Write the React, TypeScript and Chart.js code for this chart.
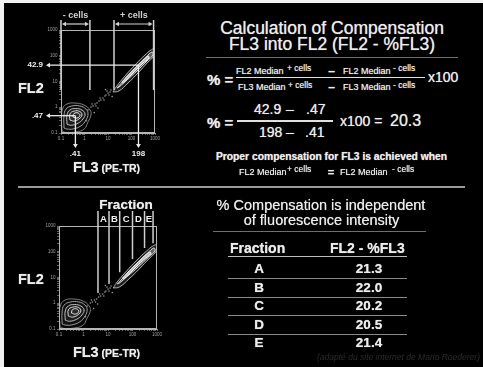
import React, { useEffect, useRef } from "react";
import { Chart, registerables } from "chart.js";

Chart.register(...registerables);

const FONT = '"Liberation Sans", Arial, Helvetica, sans-serif';

// ---------------- Data ----------------
const axisRange = [0.1, 1000];
const majorTicks = [0.1, 1, 10, 100, 1000];
const majorTickLabels = ["0.1", "1", "10", "100", "1000"];

// contour rings, points are [FL3, FL2]
const negRing1 = [[0.11, 0.12], [0.105, 0.38], [0.12, 0.93], [0.18, 1.34], [0.39, 1.46], [0.95, 1.22], [1.71, 0.78], [1.89, 0.5], [1.41, 0.27], [0.95, 0.14], [0.43, 0.11], [0.16, 0.105]];
const negRing2 = [[0.134, 0.156], [0.134, 0.46], [0.163, 0.85], [0.29, 1.12], [0.64, 1.12], [1.16, 0.85], [1.41, 0.55], [1.16, 0.32], [0.71, 0.19], [0.32, 0.143], [0.18, 0.143]];
const negRing3 = [[0.18, 0.22], [0.18, 0.5], [0.24, 0.78], [0.43, 0.89], [0.78, 0.78], [1.05, 0.55], [0.86, 0.35], [0.53, 0.24], [0.27, 0.2]];
const negRing4 = [[0.24, 0.32], [0.24, 0.55], [0.36, 0.71], [0.64, 0.68], [0.78, 0.5], [0.58, 0.35], [0.36, 0.29]];
const negRing5 = [[0.32, 0.42], [0.36, 0.57], [0.53, 0.6], [0.64, 0.48], [0.48, 0.38]];

const posRing1 = [[16.3, 3.9], [22, 6.1], [53, 16.4], [155, 48], [375, 107], [676, 167], [906, 183], [980, 140], [822, 89], [504, 57], [189, 21.4], [71, 8.7], [29.4, 4.3]];
const posRing2 = [[24.2, 5.6], [58, 13.7], [171, 40], [414, 89], [745, 140], [822, 107], [457, 62.5], [171, 25.6], [64, 11.4], [29.4, 6.1]];
const posRing3 = [[39.4, 9.6], [95, 23.4], [254, 57], [504, 98], [556, 82], [280, 48], [105, 19.6], [43.5, 8.7]];

const bridgeEvents = [[1.41, 0.78], [1.89, 1.02], [2.3, 1.12], [2.8, 1.34], [3.4, 1.46], [4.14, 1.75], [5.0, 1.91], [6.1, 2.29], [7.45, 2.73], [8.2, 2.99], [10, 3.57], [12.2, 3.91], [13.4, 4.68], [2.09, 1.34], [3.08, 1.12], [4.57, 2.29], [6.76, 1.91], [9.06, 4.28], [3.75, 0.935], [11, 2.99], [1.2, 0.3], [2.6, 0.62], [15, 2.6], [7.8, 4.9]];

const gateNames = ["- cells", "+ cells"];
const gateNegFL3 = [0.1, 1.7];
const gatePosFL3 = [18, 870];
const gateFloorFL2 = 4.7;

const medianFL3Pos = 198;
const medianFL2Pos = 42.9;
const medianFL3Neg = 0.41;
const medianFL2Neg = 0.47;
const compensationResult = 20.3;

const fractionNames = ["A", "B", "C", "D", "E"];
const fractionEdgesFL3 = [3.9, 11, 30, 100, 310, 690];
const fractionEdgeFloorFL2 = [2.5, 5.6, 16, 52, 140, 215];
const fractionCompensation = [21.3, 22.0, 20.2, 20.5, 21.4];

const footnote = "(adapté du site internet de Mario Roederer)";

// ---------------- helpers ----------------
const Y_AXIS_W = 14;
const X_AXIS_H = 10;

const fmtVal = (v: number) => (v < 1 ? String(v).replace(/^0/, "") : String(v));

function tickLabel(v: number) {
  const i = majorTicks.findIndex((m) => Math.abs(Math.log10(m) - Math.log10(v)) < 1e-6);
  return i >= 0 ? majorTickLabels[i] : "";
}

function seg(ctx: CanvasRenderingContext2D, x0: number, y0: number, x1: number, y1: number) {
  ctx.beginPath();
  ctx.moveTo(x0, y0);
  ctx.lineTo(x1, y1);
  ctx.stroke();
}

function head(ctx: CanvasRenderingContext2D, x: number, y: number, dir: string, len = 4, hw = 2.4) {
  ctx.beginPath();
  ctx.moveTo(x, y);
  if (dir === "left") { ctx.lineTo(x + len, y - hw); ctx.lineTo(x + len, y + hw); }
  if (dir === "right") { ctx.lineTo(x - len, y - hw); ctx.lineTo(x - len, y + hw); }
  if (dir === "down") { ctx.lineTo(x - hw, y - len); ctx.lineTo(x + hw, y - len); }
  ctx.closePath();
  ctx.fill();
}

function ringDataset(ring: number[][], stroke: string, fill: string, w = 1) {
  const pts = ring.map(([x, y]) => ({ x, y }));
  pts.push({ ...pts[0] });
  return {
    type: "line",
    data: pts,
    borderColor: stroke,
    borderWidth: w,
    backgroundColor: fill,
    fill: "shape",
    tension: 0.45,
    pointRadius: 0,
  };
}

function buildDatasets() {
  return [
    ringDataset(negRing1, "#7c7c7c", "rgba(255,255,255,0.03)"),
    ringDataset(negRing2, "#9a9a9a", "rgba(255,255,255,0.04)"),
    ringDataset(negRing3, "#bdbdbd", "rgba(255,255,255,0.05)"),
    ringDataset(negRing4, "#d6d6d6", "rgba(255,255,255,0.06)"),
    ringDataset(negRing5, "#e6e6e6", "rgba(0,0,0,0.85)"),
    ringDataset(posRing1, "#b0b0b0", "rgba(255,255,255,0.12)"),
    ringDataset(posRing2, "#dcdcdc", "rgba(255,255,255,0.30)"),
    ringDataset(posRing3, "#ffffff", "rgba(255,255,255,0.6)"),
    {
      type: "scatter",
      data: bridgeEvents.map(([x, y]) => ({ x, y })),
      pointRadius: 0.8,
      pointBackgroundColor: "#9a9a9a",
      pointBorderWidth: 0,
      showLine: false,
    },
  ];
}

const topDecor = {
  id: "topDecor",
  afterDatasetsDraw(chart: any) {
    const { ctx, chartArea: a } = chart;
    const x = chart.scales.x;
    const y = chart.scales.y;
    ctx.save();
    ctx.strokeStyle = "#b5b5b5";
    ctx.lineWidth = 1;
    ctx.strokeRect(a.left + 0.5, a.top + 0.5, a.right - a.left - 1, a.bottom - a.top - 1);

    [gateNegFL3, gatePosFL3].forEach((g, gi) => {
      const x0 = x.getPixelForValue(g[0]);
      const x1 = x.getPixelForValue(g[1]);
      const yb = y.getPixelForValue(gateFloorFL2);
      ctx.strokeStyle = "#d2d2d2";
      ctx.fillStyle = "#d2d2d2";
      ctx.lineWidth = 1.5;
      seg(ctx, x0, a.top - 10, x0, yb);
      seg(ctx, x1, a.top - 10, x1, yb);
      const by = a.top - 6;
      ctx.lineWidth = 1.2;
      seg(ctx, x0 + 3, by, x1 - 3, by);
      head(ctx, x0 + 1, by, "left", 4, 2.2);
      head(ctx, x1 - 1, by, "right", 4, 2.2);
      ctx.font = `bold 9px ${FONT}`;
      ctx.textAlign = "center";
      ctx.textBaseline = "middle";
      ctx.fillText(gateNames[gi], (x0 + x1) / 2, a.top - 14);
    });

    const medians = [[medianFL3Pos, medianFL2Pos], [medianFL3Neg, medianFL2Neg]];
    medians.forEach(([fx, fy]) => {
      const px = x.getPixelForValue(fx);
      const py = y.getPixelForValue(fy);
      ctx.strokeStyle = "#ececec";
      ctx.fillStyle = "#ececec";
      ctx.lineWidth = 1.3;
      seg(ctx, a.left - 12, py, px, py);
      seg(ctx, px, py, px, a.bottom + 12);
      head(ctx, a.left - 15, py, "left");
      head(ctx, px, a.bottom + 15, "down");
      ctx.font = `bold 8px ${FONT}`;
      ctx.textBaseline = "middle";
      ctx.textAlign = "right";
      ctx.fillText(fmtVal(fy), a.left - 18, py);
      ctx.textAlign = "center";
      ctx.fillText(fmtVal(fx), px, a.bottom + 21);
    });
    ctx.restore();
  },
};

const bottomDecor = {
  id: "bottomDecor",
  afterDatasetsDraw(chart: any) {
    const { ctx, chartArea: a } = chart;
    const x = chart.scales.x;
    const y = chart.scales.y;
    ctx.save();
    ctx.strokeStyle = "#b5b5b5";
    ctx.lineWidth = 1;
    ctx.strokeRect(a.left + 0.5, a.top + 0.5, a.right - a.left - 1, a.bottom - a.top - 1);
    ctx.strokeStyle = "#cfcfcf";
    ctx.lineWidth = 1.5;
    fractionEdgesFL3.forEach((fx, i) => {
      const px = x.getPixelForValue(fx);
      seg(ctx, px, a.top - 15, px, y.getPixelForValue(fractionEdgeFloorFL2[i]));
    });
    ctx.fillStyle = "#f0f0f0";
    ctx.font = `bold 9.5px ${FONT}`;
    ctx.textAlign = "center";
    ctx.textBaseline = "middle";
    fractionNames.forEach((n, i) => {
      const mid = (x.getPixelForValue(fractionEdgesFL3[i]) + x.getPixelForValue(fractionEdgesFL3[i + 1])) / 2;
      ctx.fillText(n, mid, a.top - 7);
    });
    ctx.restore();
  },
};

type Area = { left: number; right: number; top: number; bottom: number };

function FlowPlot({ top, width, height, area, decor }: { top: number; width: number; height: number; area: Area; decor: any }) {
  const ref = useRef<HTMLCanvasElement | null>(null);
  useEffect(() => {
    if (!ref.current) return;
    const mkScale = (axis: "x" | "y") => ({
      type: "logarithmic",
      position: axis === "x" ? "bottom" : "left",
      min: axisRange[0],
      max: axisRange[1],
      afterFit: (s: any) => {
        if (axis === "x") s.height = X_AXIS_H;
        else s.width = Y_AXIS_W;
      },
      afterBuildTicks: (s: any) => {
        s.ticks = s.ticks.filter((t: any) => {
          const m = t.value / Math.pow(10, Math.floor(Math.log10(t.value) + 1e-9));
          return Math.abs(m - Math.round(m)) < 1e-6;
        });
      },
      ticks: {
        autoSkip: false,
        maxRotation: 0,
        minRotation: 0,
        padding: 1.5,
        color: "#a0a0a0",
        font: { family: FONT, size: 4.5 },
        callback: (v: any) => tickLabel(Number(v)),
      },
      grid: { display: true, drawOnChartArea: false, drawTicks: true, tickLength: 2, color: "#8a8a8a", lineWidth: 0.7 },
      border: { display: true, color: "#b5b5b5", width: 1 },
    });
    const chart = new Chart(ref.current, {
      type: "scatter",
      data: { datasets: buildDatasets() as any },
      options: {
        animation: false,
        responsive: false,
        maintainAspectRatio: false,
        events: [],
        layout: {
          padding: {
            left: area.left - Y_AXIS_W,
            right: width - area.right,
            top: area.top,
            bottom: height - area.bottom - X_AXIS_H,
          },
        },
        plugins: { legend: { display: false }, tooltip: { enabled: false } },
        scales: { x: mkScale("x") as any, y: mkScale("y") as any },
      },
      plugins: [decor],
    });
    return () => chart.destroy();
  }, []);
  return (
    <canvas
      ref={ref}
      width={width}
      height={height}
      style={{ position: "absolute", left: 0, top, width, height }}
    />
  );
}

const GLOW = "0 0 0.8px rgba(255,255,255,0.75)";

type TP = { x: number; y: number; s: number; w?: number; a?: string; c?: string; i?: boolean; children: any };
const T = ({ x, y, s, w = 400, a = "l", c = "#ececec", i = false, children }: TP) => (
  <div
    style={{
      position: "absolute",
      left: x,
      top: y,
      fontSize: s,
      fontWeight: w,
      color: c,
      lineHeight: 1,
      whiteSpace: "nowrap",
      fontStyle: i ? "italic" : "normal",
      textShadow: i ? "none" : GLOW,
      transform: `translate(${a === "c" ? "-50%" : a === "r" ? "-100%" : "0"}, -50%)`,
    }}
  >
    {children}
  </div>
);

const HLine = ({ x, y, w, h = 1, c = "#888" }: { x: number; y: number; w: number; h?: number; c?: string }) => (
  <div style={{ position: "absolute", left: x, top: y, width: w, height: h, background: c }} />
);

const AxisTitleFL3 = ({ y }: { y: number }) => (
  <div
    style={{
      position: "absolute",
      left: 106.5,
      top: y,
      transform: "translate(-50%, -50%)",
      whiteSpace: "nowrap",
      lineHeight: 1,
      color: "#ececec",
      fontWeight: 700,
      textShadow: GLOW,
    }}
  >
    <span style={{ fontSize: 14.5 }}>FL3</span>
    <span style={{ fontSize: 10.5 }}> (PE-TR)</span>
  </div>
);

export default function App() {
  const rowY0 = 269;
  const rowStep = 18.5;
  return (
    <div
      style={{
        position: "fixed",
        left: 0,
        top: 0,
        width: 483,
        height: 367,
        background: "#f2f2f2",
        overflow: "hidden",
        fontFamily: FONT,
      }}
    >
      <div style={{ position: "absolute", left: 4, top: 3, right: 0, bottom: 0, background: "#000" }} />

      <FlowPlot top={0} width={200} height={180} area={{ left: 61, right: 155, top: 30, bottom: 133 }} decor={topDecor} />
      <FlowPlot top={185} width={200} height={182} area={{ left: 59, right: 157, top: 41, bottom: 144 }} decor={bottomDecor} />

      <T x={18} y={88} s={14.5} w={700}>FL2</T>
      <AxisTitleFL3 y={167} />
      <T x={18} y={279} s={14.5} w={700}>FL2</T>
      <AxisTitleFL3 y={352} />
      <T x={126} y={205} s={13.5} w={700} a="c">Fraction</T>

      {/* top right: calculation */}
      <T x={332} y={28.5} s={17.5} a="c">Calculation of Compensation</T>
      <T x={332} y={45} s={17.5} a="c">FL3 into FL2 (FL2 - %FL3)</T>
      <HLine x={206} y={57} w={252} h={1.2} c="#6e6e6e" />

      <T x={207} y={78.5} s={15} w={700}>% =</T>
      <T x={236} y={71} s={9}>FL2 Median</T>
      <T x={287} y={67.5} s={8.5}>+ cells</T>
      <T x={331.5} y={71} s={12} w={700} a="c">–</T>
      <T x={343} y={71} s={9}>FL2 Median</T>
      <T x={393} y={67.5} s={8.5}>- cells</T>
      <HLine x={236} y={76.5} w={189} h={1.5} c="#e0e0e0" />
      <T x={238} y={87} s={9}>FL3 Median</T>
      <T x={288} y={84.5} s={8.5}>+ cells</T>
      <T x={331.5} y={87} s={12} w={700} a="c">–</T>
      <T x={343} y={87} s={9}>FL3 Median</T>
      <T x={393} y={84.5} s={8.5}>- cells</T>
      <T x={428} y={77} s={14}>x100</T>

      <T x={207} y={121.5} s={15} w={700}>% =</T>
      <T x={254} y={109} s={14}>{fmtVal(medianFL2Pos)}</T>
      <T x={290} y={109} s={14} a="c">–</T>
      <T x={306} y={109} s={14}>{fmtVal(medianFL2Neg)}</T>
      <HLine x={237} y={120} w={96} h={1.5} c="#e0e0e0" />
      <T x={259} y={132} s={14}>{fmtVal(medianFL3Pos)}</T>
      <T x={290} y={132} s={14} a="c">–</T>
      <T x={305} y={132} s={14}>{fmtVal(medianFL3Neg)}</T>
      <T x={340} y={121} s={14}>x100 =</T>
      <T x={390} y={120.5} s={16}>{compensationResult.toFixed(1)}</T>

      <T x={331.5} y={157} s={10.3} w={700} a="c">Proper compensation for FL3 is achieved when</T>
      <T x={239} y={172} s={9}>FL2 Median</T>
      <T x={287} y={168.5} s={8.5}>+ cells</T>
      <T x={331} y={172} s={11} w={700} a="c">=</T>
      <T x={340} y={172} s={9}>FL2 Median</T>
      <T x={392} y={168.5} s={8.5}>- cells</T>

      <HLine x={18} y={186} w={447} h={2} c="#9a9a9a" />

      {/* bottom right: table */}
      <T x={321} y={204.5} s={14.5} a="c">% Compensation is independent</T>
      <T x={321.5} y={219.5} s={14.5} a="c">of fluorescence intensity</T>
      <HLine x={213} y={231} w={213} h={1.2} c="#6e6e6e" />

      <T x={230} y={248} s={14} w={700}>Fraction</T>
      <T x={330} y={248} s={14} w={700}>FL2 - %FL3</T>
      <HLine x={228} y={255.5} w={179} h={1.5} c="#bdbdbd" />
      {fractionNames.map((n, i) => (
        <React.Fragment key={n}>
          <T x={259} y={rowY0 + i * rowStep} s={13.5} w={700} a="c">{n}</T>
          <T x={369} y={rowY0 + i * rowStep} s={13.5} w={700} a="c">{fractionCompensation[i].toFixed(1)}</T>
          {i < fractionNames.length - 1 && (
            <HLine x={228} y={rowY0 + i * rowStep + 9} w={179} h={1.2} c="#8a8a8a" />
          )}
        </React.Fragment>
      ))}

      <T x={480} y={357} s={8.5} a="r" i c="#2c2c2c">{footnote}</T>
    </div>
  );
}
